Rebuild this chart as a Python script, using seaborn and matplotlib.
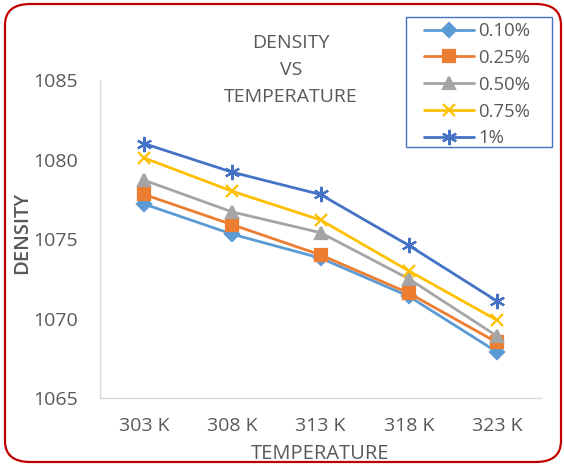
import matplotlib
matplotlib.use("Agg")
import matplotlib.pyplot as plt
import seaborn as sns
import pandas as pd
from matplotlib.patches import FancyBboxPatch, Rectangle

temps = ["303 K", "308 K", "313 K", "318 K", "323 K"]
series_names = ["0.10%", "0.25%", "0.50%", "0.75%", "1%"]
d010 = [1077.2, 1075.3, 1073.8, 1071.4, 1067.9]
d025 = [1077.8, 1075.9, 1074.0, 1071.6, 1068.5]
d050 = [1078.7, 1076.7, 1075.4, 1072.5, 1068.9]
d075 = [1080.1, 1078.0, 1076.2, 1073.0, 1069.9]
d100 = [1081.0, 1079.2, 1077.8, 1074.6, 1071.1]
colors = ["#5B9BD5", "#ED7D31", "#A5A5A5", "#FFC000", "#4472C4"]

sns.set_style("white")
plt.rcParams["font.family"] = ["Open Sans", "DejaVu Sans"]
gray = "#595959"

W, H = 564, 465
fig = plt.figure(figsize=(W/100, H/100), dpi=100)
ax = fig.add_axes([100/W, 1-398/H, 441/W, 318/H])

markers = ["D", "s", "^", "x", (6, 2, 0)]
msizes = [7, 9, 9, 9, 11]
handles = []
for name, vals, c, m, ms in zip(series_names, [d010, d025, d050, d075, d100],
                                colors, markers, msizes):
    df = pd.DataFrame({"x": list(range(len(temps))), "density": vals})
    sns.lineplot(data=df, x="x", y="density", ax=ax, color=c, linewidth=2,
                 marker=m, markersize=ms, markerfacecolor=c, markeredgecolor=c,
                 markeredgewidth=1.6, label=name, legend=False)
    handles.append(ax.get_lines()[-1])

ax.set_xlim(-0.5, 4.5)
ax.set_ylim(1065, 1085)
ax.set_yticks([1065, 1070, 1075, 1080, 1085])
ax.set_xticks(range(5))
ax.set_xticklabels(temps)
ax.tick_params(axis="both", colors=gray, labelsize=14, length=0)
ax.tick_params(axis="x", pad=14)
ax.tick_params(axis="y", pad=16)
for s in ["top", "right"]:
    ax.spines[s].set_visible(False)
for s in ["left", "bottom"]:
    ax.spines[s].set_color("#D9D9D9")
    ax.spines[s].set_linewidth(1)
ax.set_xlabel("TEMPERATURE", color=gray, fontsize=14.5, labelpad=6)
ax.set_ylabel("DENSITY", color=gray, fontsize=14.5, fontweight="semibold")
ax.yaxis.set_label_coords(32/W, 1-233/H, transform=fig.transFigure)
ax.grid(False)

fig.text(291/W, 1-70/H, "DENSITY\nVS\nTEMPERATURE", ha="center", va="center",
         color=gray, fontsize=14, linespacing=1.63)

leg = ax.legend(handles=handles, labels=series_names, loc="upper left",
                bbox_to_anchor=(424/W, 1-22/H), bbox_transform=fig.transFigure,
                frameon=False, fontsize=13.3, handlelength=2.7,
                labelspacing=0.48, borderpad=0, handletextpad=0.25,
                borderaxespad=0)
for t in leg.get_texts():
    t.set_color(gray)
fig.patches.append(Rectangle((406/W, 1-147/H), 146/W, 130/H,
                             transform=fig.transFigure, facecolor="none",
                             edgecolor="#4472C4", linewidth=1))

border = FancyBboxPatch((5/W, 3/H), 556/W, 458/H,
                        boxstyle="round,pad=0,rounding_size=0.045",
                        transform=fig.transFigure, facecolor="none",
                        edgecolor="#C00000", linewidth=1.6, clip_on=False)
fig.patches.append(border)

fig.savefig("out.png", dpi=100)
